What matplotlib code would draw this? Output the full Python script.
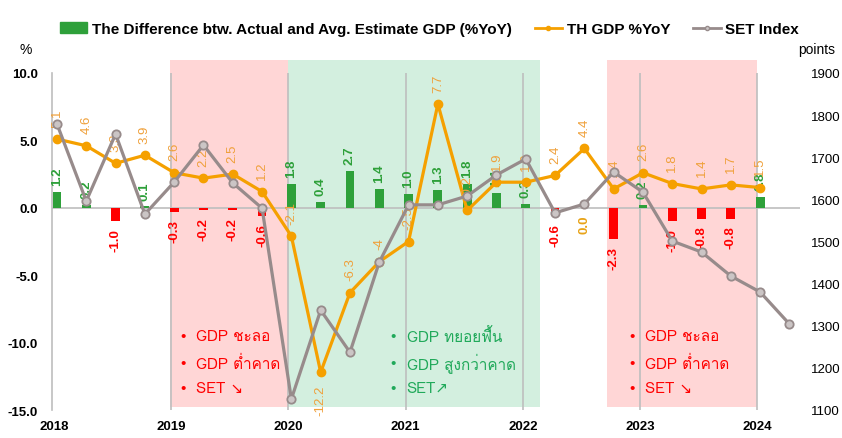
import numpy as np
import matplotlib
matplotlib.use('Agg')
import matplotlib.pyplot as plt
from matplotlib import font_manager
from matplotlib.ft2font import FT2Font
from matplotlib.patches import Patch, Rectangle
from matplotlib.lines import Line2D

# data (quarterly, 2018Q1 onwards)
years = ['2018', '2019', '2020', '2021', '2022', '2023', '2024']
diff = [1.2, 0.2, -1.0, 0.1, -0.3, -0.2, -0.2, -0.6, 1.8, 0.4, 2.7, 1.4, 1.0,
        1.3, 1.8, 1.1, 0.3, -0.6, 0.0, -2.3, 0.2, -1.0, -0.8, -0.8, 0.8]
gdp = [5.1, 4.6, 3.3, 3.9, 2.6, 2.2, 2.5, 1.2, -2.1, -12.2, -6.3, -4.0, -2.5,
       7.7, -0.2, 1.9, 1.9, 2.4, 4.4, 1.4, 2.6, 1.8, 1.4, 1.7, 1.5]
set_index = [1779, 1596, 1755, 1565, 1641, 1729, 1639, 1579, 1126, 1337, 1237,
             1451, 1587, 1587, 1608, 1658, 1696, 1568, 1589, 1665, 1617, 1501,
             1475, 1418, 1380, 1304]

red_notes = ['GDP ชะลอ', 'GDP ต่ำคาด', 'SET ↘']
green_notes = ['GDP ทยอยฟื้น', 'GDP สูงกว่าคาด', 'SET↗']


# find a font with Thai glyphs
def find_thai_font():
    for f in font_manager.fontManager.ttflist:
        try:
            if 0x0E01 in FT2Font(f.fname).get_charmap():
                return f.name
        except Exception:
            pass
    return None


thai = find_thai_font()
thai_family = [thai, 'DejaVu Sans'] if thai else ['DejaVu Sans']

plt.rcParams['font.family'] = ['Liberation Sans', 'DejaVu Sans']

ORANGE = '#F5A000'
ORANGE_TXT = '#EFA03A'
GREY = '#978B8B'
GREEN = '#2EA03A'
RED = '#FF0000'
PINK_BG = '#FFD6D6'
GREEN_BG = '#D3EFDF'
GRID = '#BEBEBE'

fig = plt.figure(figsize=(8.42, 4.39), dpi=100)
ax = fig.add_axes([52 / 842, 28 / 439, 748 / 842, 337 / 439])
ax2 = ax.twinx()

x = np.arange(len(gdp))
xs = np.arange(len(set_index))

ax.set_xlim(-0.17, 25.36)
ax.set_ylim(-15, 10)
ax2.set_ylim(1100, 1900)

# shaded periods
for x0, x1, c in [(3.86, 7.9, PINK_BG), (7.9, 16.48, GREEN_BG), (18.77, 23.89, PINK_BG)]:
    ax.add_patch(Rectangle((x0, 0.01), x1 - x0, 1.03,
                           transform=ax.get_xaxis_transform(),
                           color=c, zorder=0, clip_on=False, lw=0))

# year grid lines and zero line
year_pos = [4 * k - 0.1 for k in range(len(years))]
for p in year_pos[1:]:
    ax.axvline(p, color=GRID, lw=1.2, zorder=1)
ax.axhline(0, color=GRID, lw=1.2, zorder=1)

# bars
bar_colors = [GREEN if d > 0 else RED for d in diff]
ax.bar(x, diff, width=0.3, color=bar_colors, zorder=2)
for xi, d in zip(x, diff):
    if d > 0:
        c, off, va = GREEN, 5, 'bottom'
    elif d < 0:
        c, off, va = RED, -5, 'top'
    else:
        c, off, va = '#E8A317', -5, 'top'
    ax.annotate(f'{d:.1f}', (xi, d), xytext=(0, off), textcoords='offset points',
                rotation=90, ha='center', va=va, color=c, fontsize=9.5,
                fontweight='bold', zorder=4)

# GDP line
ax.plot(x, gdp, color=ORANGE, lw=2.3, marker='o', ms=6, zorder=5)
for xi, v in zip(x, gdp):
    txt = f'{v:.1f}' if v != int(v) else f'{v:g}'
    if v < -10:
        off, va = -9, 'top'
    else:
        off, va = 9, 'bottom'
    ax.annotate(txt, (xi, v), xytext=(0, off), textcoords='offset points',
                rotation=90, ha='center', va=va, color=ORANGE_TXT, fontsize=9.5,
                zorder=5)

# SET line
ax2.plot(xs, set_index, color=GREY, lw=2.3, marker='o', ms=6,
         markerfacecolor='#CBC5C5', markeredgecolor=GREY, markeredgewidth=1.3,
         zorder=6)

# notes
rows = [-9.5, -11.5, -13.4]
for (bx, tx, notes, c) in [(4.3, 4.76, red_notes, RED),
                           (11.47, 11.93, green_notes, '#20A95A'),
                           (19.62, 20.08, red_notes, RED)]:
    for y, t in zip(rows, notes):
        ax.text(bx, y, '•', color=c, fontsize=11, ha='center', va='center', zorder=7)
        ax.text(tx, y, t, color=c, fontsize=11, ha='left', va='center',
                family=thai_family, zorder=7)

# axes styling
ax.set_xticks(year_pos)
ax.set_xticklabels(years, fontweight='bold', fontsize=9.5)
ax.set_yticks(np.arange(-15, 11, 5))
ax.set_yticklabels([f'{v:.1f}' for v in np.arange(-15, 11, 5)],
                   fontweight='bold', fontsize=9.5)
ax2.set_yticks(np.arange(1100, 1901, 100))
ax2.tick_params(axis='y', length=0, labelsize=9.5, pad=8)
ax.tick_params(axis='y', length=0, pad=10)
ax.tick_params(axis='x', length=0, pad=7)
for a in (ax, ax2):
    for s in ['top', 'right', 'bottom', 'left']:
        a.spines[s].set_visible(False)
ax.spines['left'].set_visible(True)
ax.spines['left'].set_color(GRID)
ax.spines['left'].set_linewidth(1.2)

fig.text(20 / 842, 1 - 50 / 439, '%', fontsize=10, ha='left', va='center')
fig.text(835 / 842, 1 - 50 / 439, 'points', fontsize=10, ha='right', va='center')

handles = [Patch(color=GREEN),
           Line2D([], [], color=ORANGE, lw=2, marker='o', ms=3),
           Line2D([], [], color=GREY, lw=2, marker='o', ms=3,
                  markerfacecolor='#CBC5C5')]
labels = ['The Difference btw. Actual and Avg. Estimate GDP (%YoY)',
          'TH GDP %YoY', 'SET Index']
fig.legend(handles, labels, loc='center', bbox_to_anchor=(0.51, 1 - 30 / 439),
           ncol=3, frameon=False, handlelength=1.8, handletextpad=0.3,
           columnspacing=1.5, prop={'weight': 'bold', 'size': 11})

fig.savefig('out.png', dpi=100)
